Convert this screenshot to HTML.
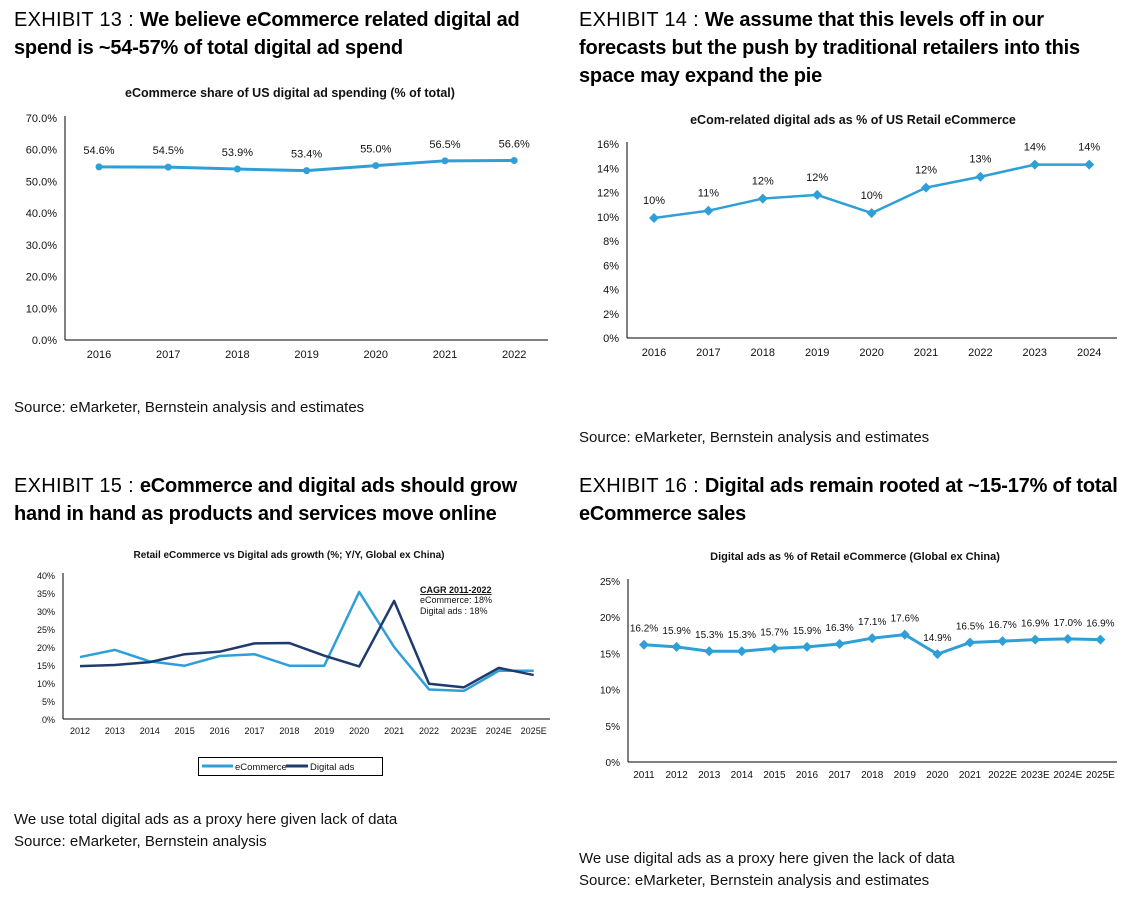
<!DOCTYPE html>
<html><head><meta charset="utf-8"><style>
body{margin:0;background:#fff;width:1125px;height:901px;position:relative;font-family:"Liberation Sans",Arial,sans-serif;overflow:hidden}
.h{position:absolute;font-size:20px;line-height:28px;color:#000;font-weight:bold;letter-spacing:-0.2px}
.h span{font-weight:normal;letter-spacing:0.3px}
.t{position:absolute;font-size:15px;line-height:22px;color:#111}
svg{position:absolute;left:0;top:0}
</style></head><body>
<div class="h" style="left:14px;top:6px;width:550px"><span>EXHIBIT 13 : </span> We believe eCommerce related digital ad spend is ~54-57% of total digital ad spend</div>
<div class="h" style="left:579px;top:6px;width:545px"><span>EXHIBIT 14 : </span> We assume that this levels off in our forecasts but the push by traditional retailers into this space may expand the pie</div>
<div class="t" style="left:14px;top:397px">Source: eMarketer, Bernstein analysis and estimates</div>
<div class="t" style="left:579px;top:427px">Source: eMarketer, Bernstein analysis and estimates</div>
<div class="h" style="left:14px;top:472px;width:550px"><span>EXHIBIT 15 : </span> eCommerce and digital ads should grow hand in hand as products and services move online</div>
<div class="h" style="left:579px;top:472px;width:546px"><span>EXHIBIT 16 : </span> Digital ads remain rooted at ~15-17% of total eCommerce sales</div>
<div class="t" style="left:14px;top:809px">We use total digital ads as a proxy here given lack of data<br>Source: eMarketer, Bernstein analysis</div>
<div class="t" style="left:579px;top:848px">We use digital ads as a proxy here given the lack of data<br>Source: eMarketer, Bernstein analysis and estimates</div>
<svg id="s" width="1125" height="901"></svg>
<script>
const c1Cats=["2016","2017","2018","2019","2020","2021","2022"];
const c1Vals=[54.6,54.5,53.9,53.4,55.0,56.5,56.6];
const c1Ticks=[0,10,20,30,40,50,60,70];
const c2Cats=["2016","2017","2018","2019","2020","2021","2022","2023","2024"];
const c2Vals=[9.9,10.5,11.5,11.8,10.3,12.4,13.3,14.3,14.3];
const c2Labels=["10%","11%","12%","12%","10%","12%","13%","14%","14%"];
const c2Ticks=[0,2,4,6,8,10,12,14,16];
const c3Cats=["2012","2013","2014","2015","2016","2017","2018","2019","2020","2021","2022","2023E","2024E","2025E"];
const c3Ecom=[17.2,19.2,16.0,14.8,17.5,18.0,14.8,14.8,35.3,20.0,8.2,7.8,13.4,13.4];
const c3Ads=[14.7,15.0,15.8,18.0,18.7,21.0,21.1,17.6,14.6,32.8,9.8,8.8,14.2,12.2];
const c3Ticks=[0,5,10,15,20,25,30,35,40];
const c4Cats=["2011","2012","2013","2014","2015","2016","2017","2018","2019","2020","2021","2022E","2023E","2024E","2025E"];
const c4Vals=[16.2,15.9,15.3,15.3,15.7,15.9,16.3,17.1,17.6,14.9,16.5,16.7,16.9,17.0,16.9];
const c4Ticks=[0,5,10,15,20,25];
const NS="http://www.w3.org/2000/svg",S=document.getElementById('s');
function el(t,a,txt){const e=document.createElementNS(NS,t);for(const k in a)e.setAttribute(k,a[k]);if(txt!==undefined)e.textContent=txt;S.appendChild(e);return e;}
function axes(o){
  const y=v=>o.y0-(v-o.vmin)/(o.vmax-o.vmin)*(o.y0-o.y1);
  const x=i=>o.x0c+i*o.dx;
  let e=el('text',{x:o.tx,y:o.ty,'text-anchor':'middle','font-size':o.tfs,'font-weight':'bold',fill:'#111'},o.title);
  
  e=el('line',{x1:o.ax,y1:o.y1-2,x2:o.ax,y2:o.y0,stroke:'#000','stroke-width':1});
  
  e=el('line',{x1:o.ax,y1:o.y0,x2:o.ax2,y2:o.y0,stroke:'#000','stroke-width':1});
  
  o.ticks.forEach(t=>{e=el('text',{x:o.ax-8,y:y(t)+4,'text-anchor':'end','font-size':o.fs,fill:'#111'},o.fmt(t));
    });
  o.cats.forEach((c,i)=>{e=el('text',{x:x(i),y:o.y0+o.cy,'text-anchor':'middle','font-size':o.fs,fill:'#111'},c);
    });
  return {x,y};
}
function series(o,a,vals,color,w,marker,labels){
  const pts=vals.map((v,i)=>a.x(i)+','+a.y(v)).join(' ');
  let e=el('polyline',{points:pts,fill:'none',stroke:color,'stroke-width':w,'stroke-linejoin':'round'});
  
  vals.forEach((v,i)=>{const cx=a.x(i),cy=a.y(v);
    if(marker==='circle'){e=el('circle',{cx,cy,r:3.5,fill:color});}
    else if(marker==='diamond'){e=el('polygon',{points:`${cx},${cy-5} ${cx+5},${cy} ${cx},${cy+5} ${cx-5},${cy}`,fill:color});}
    else return;
    
    if(labels){e=el('text',{x:cx,y:cy-o.ly,'text-anchor':'middle','font-size':o.lfs,fill:'#111'},labels[i]);
      }
  });
}
const blue='#2f9fd8',navy='#1f3b6e';
let o1={id:'exhibit-13',title:'eCommerce share of US digital ad spending (% of total)',tx:290,ty:97,tfs:12.5,ax:65,ax2:548,y0:340,y1:118,vmin:0,vmax:70,x0c:99,dx:69.2,ticks:c1Ticks,cats:c1Cats,fmt:t=>t.toFixed(1)+'%',fs:11,cy:18,ly:13,lfs:11};
let a1=axes(o1);series(o1,a1,c1Vals,blue,3,'circle',c1Vals.map(v=>v.toFixed(1)+'%'));
let o2={id:'exhibit-14',title:'eCom-related digital ads as % of US Retail eCommerce',tx:853,ty:124,tfs:12.5,ax:627,ax2:1117,y0:338,y1:144,vmin:0,vmax:16,x0c:654,dx:54.4,ticks:c2Ticks,cats:c2Cats,fmt:t=>t+'%',fs:11,cy:18,ly:14,lfs:11};
let a2=axes(o2);series(o2,a2,c2Vals,blue,2.5,'diamond',c2Labels);
let o3={id:'exhibit-15',title:'Retail eCommerce vs Digital ads growth (%; Y/Y, Global ex China)',tx:289,ty:558,tfs:10,ax:63,ax2:550,y0:719,y1:575,vmin:0,vmax:40,x0c:80,dx:34.9,ticks:c3Ticks,cats:c3Cats,fmt:t=>t+'%',fs:9,cy:15};
let a3=axes(o3);
series(o3,a3,c3Ecom,blue,2.5,null);series(o3,a3,c3Ads,navy,2.5,null);
let e=el('text',{x:420,y:593,'font-size':9,'font-weight':'bold','text-decoration':'underline',fill:'#111'},'CAGR 2011-2022');

el('text',{x:420,y:603,'font-size':9,fill:'#111'},'eCommerce: 18%');
el('text',{x:420,y:614,'font-size':9,fill:'#111'},'Digital ads : 18%');
e=el('rect',{x:198.5,y:757.5,width:184,height:18,fill:'#fff',stroke:'#000'});

el('line',{x1:202,y1:766,x2:233,y2:766,stroke:blue,'stroke-width':3});
e=el('text',{x:235,y:770,'font-size':9.5,fill:'#111'},'eCommerce');
el('line',{x1:286,y1:766,x2:308,y2:766,stroke:navy,'stroke-width':3});
e=el('text',{x:310,y:770,'font-size':9.5,fill:'#111'},'Digital ads');
let o4={id:'exhibit-16',title:'Digital ads as % of Retail eCommerce (Global ex China)',tx:855,ty:560,tfs:11,ax:628,ax2:1117,y0:762,y1:581,vmin:0,vmax:25,x0c:644,dx:32.6,ticks:c4Ticks,cats:c4Cats,fmt:t=>t+'%',fs:10,cy:16,ly:13,lfs:10};
let a4=axes(o4);series(o4,a4,c4Vals,blue,3,'diamond',c4Vals.map(v=>v.toFixed(1)+'%'));
</script>
</body></html>
